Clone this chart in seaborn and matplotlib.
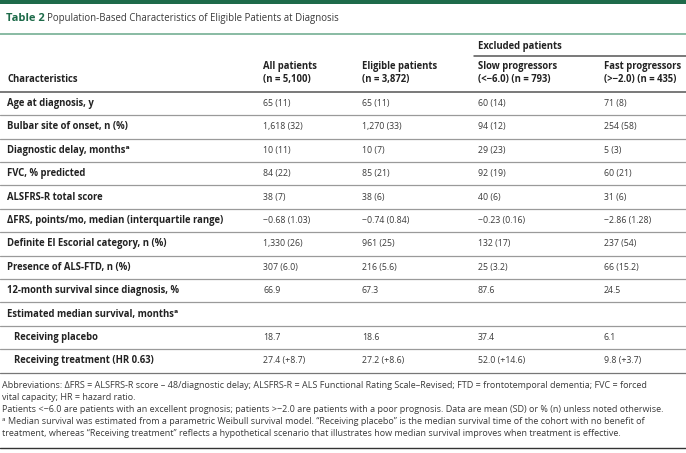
import matplotlib
matplotlib.use("Agg")
import matplotlib.pyplot as plt
import seaborn as sns

# ---------------- data ----------------
title_label = "Table 2"
title_text = "Population-Based Characteristics of Eligible Patients at Diagnosis"
group_header = "Excluded patients"
col_headers = [
    "Characteristics",
    "All patients\n(n = 5,100)",
    "Eligible patients\n(n = 3,872)",
    "Slow progressors\n(<\u22126.0) (n = 793)",
    "Fast progressors\n(>\u22122.0) (n = 435)",
]
characteristics = [
    "Age at diagnosis, y",
    "Bulbar site of onset, n (%)",
    "Diagnostic delay, months\u1d43",
    "FVC, % predicted",
    "ALSFRS-R total score",
    "\u0394FRS, points/mo, median (interquartile range)",
    "Definite El Escorial category, n (%)",
    "Presence of ALS-FTD, n (%)",
    "12-month survival since diagnosis, %",
    "Estimated median survival, months\u1d43",
    "Receiving placebo",
    "Receiving treatment (HR 0.63)",
]
indented = [False] * 10 + [True, True]
all_patients = ["65 (11)", "1,618 (32)", "10 (11)", "84 (22)", "38 (7)", "\u22120.68 (1.03)",
                "1,330 (26)", "307 (6.0)", "66.9", "", "18.7", "27.4 (+8.7)"]
eligible = ["65 (11)", "1,270 (33)", "10 (7)", "85 (21)", "38 (6)", "\u22120.74 (0.84)",
            "961 (25)", "216 (5.6)", "67.3", "", "18.6", "27.2 (+8.6)"]
slow = ["60 (14)", "94 (12)", "29 (23)", "92 (19)", "40 (6)", "\u22120.23 (0.16)",
        "132 (17)", "25 (3.2)", "87.6", "", "37.4", "52.0 (+14.6)"]
fast = ["71 (8)", "254 (58)", "5 (3)", "60 (21)", "31 (6)", "\u22122.86 (1.28)",
        "237 (54)", "66 (15.2)", "24.5", "", "6.1", "9.8 (+3.7)"]
footnotes = [
    "Abbreviations: \u0394FRS = ALSFRS-R score \u2013 48/diagnostic delay; ALSFRS-R = ALS Functional Rating Scale\u2013Revised; FTD = frontotemporal dementia; FVC = forced",
    "vital capacity; HR = hazard ratio.",
    "Patients <\u22126.0 are patients with an excellent prognosis; patients >\u22122.0 are patients with a poor prognosis. Data are mean (SD) or % (n) unless noted otherwise.",
    "\u1d43 Median survival was estimated from a parametric Weibull survival model. \u201cReceiving placebo\u201d is the median survival time of the cohort with no benefit of",
    "treatment, whereas \u201cReceiving treatment\u201d reflects a hypothetical scenario that illustrates how median survival improves when treatment is effective.",
]

# ---------------- style ----------------
sns.set_theme(style="white")
plt.rcParams["font.family"] = ["Open Sans", "DejaVu Sans"]

GREEN = "#1e6b4a"
TXT = "#3a3a3a"
BOLD = "#222222"
W, H = 686, 453
WT = "bold"

fig = plt.figure(figsize=(W / 100, H / 100), dpi=100)
ax = fig.add_axes([0, 0, 1, 1])
ax.set_xlim(0, W)
ax.set_ylim(H, 0)
ax.axis("off")

# top bar and title
ax.axhspan(0, 3.5, color=GREEN, lw=0)
ax.text(6, 18.5, title_label, color=GREEN, fontsize=8.0, fontweight="bold", va="center")
ax.text(47, 18.5, title_text, color=TXT, fontsize=6.9, va="center")
ax.plot([0, W], [33.5, 33.5], color="#7fb59c", lw=1.3)

BFS = 6.85
VFS = 6.3
# header
col_x = [7, 263, 362, 478, 604]
ax.text(col_x[3], 46.5, group_header, color=BOLD, fontsize=BFS, fontweight=WT, va="center")
ax.plot([474, W], [55.5, 55.5], color="#555555", lw=1.1)
for i, h in enumerate(col_headers):
    if i == 0:
        ax.text(col_x[0], 79, h, color=BOLD, fontsize=BFS, fontweight=WT, va="center")
    else:
        l1, l2 = h.split("\n")
        ax.text(col_x[i], 66.5, l1, color=BOLD, fontsize=BFS, fontweight=WT, va="center")
        ax.text(col_x[i], 79.5, l2, color=BOLD, fontsize=BFS, fontweight=WT, va="center")
ax.plot([0, W], [91.5, 91.5], color="#555555", lw=1.1)

# body rows
row_h = 23.4
y0 = 103.5
for r, name in enumerate(characteristics):
    y = y0 + r * row_h
    x = col_x[0] + (7 if indented[r] else 0)
    ax.text(x, y, name, color=BOLD, fontsize=BFS, fontweight=WT, va="center")
    for ci, col in enumerate([all_patients, eligible, slow, fast], start=1):
        ax.text(col_x[ci], y, col[r], color=TXT, fontsize=VFS, va="center")
    yl = y + row_h / 2
    ax.plot([0, W], [yl, yl], color="#9a9a9a" if r < len(characteristics) - 1 else "#777777", lw=0.9)

# footnotes
fy = 385
for k, line in enumerate(footnotes):
    ax.text(2, fy + k * 12, line, color=TXT, fontsize=6.5, va="center")

ax.plot([0, W], [447.5, 447.5], color="#333333", lw=1.0)

fig.savefig("out.png", dpi=100, facecolor="white")
